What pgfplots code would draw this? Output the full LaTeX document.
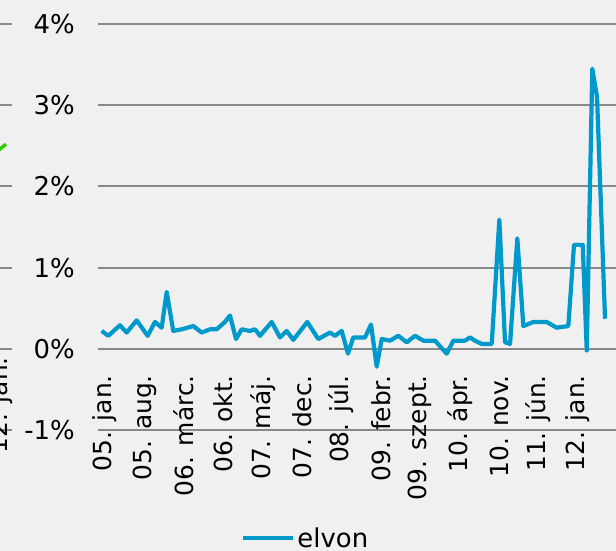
\documentclass[border=0pt]{standalone}
\usepackage{fontspec}
\setmainfont{DejaVu Sans}
\usepackage{pgfplots}
\pgfplotsset{compat=1.18}
\definecolor{bg}{HTML}{F0F0F0}
\definecolor{gridc}{HTML}{888888}
\definecolor{elvon}{HTML}{0099CC}
\definecolor{greenl}{HTML}{33CC00}
\begin{document}
\begin{tikzpicture}[x=1bp,y=1bp]
\useasboundingbox (0,0) rectangle (616,551);
\fill[bg] (0,0) rectangle (616,551);
\clip (0,0) rectangle (616,551);
% remnant of the neighbouring chart on the left
\begin{axis}[
  scale only axis, width=200bp, height=406bp,
  at={(12bp,121bp)}, anchor=south east,
  xmin=0, xmax=10, ymin=-1, ymax=4,
  axis line style={draw=none}, major tick length=0pt,
  ymajorgrids, grid style={gridc, line width=2bp},
  ytick={-1,0,...,4}, yticklabels={},
  xtick={9.45}, xticklabels={12. jan.},
  xticklabel style={font=\fontsize{25}{30}\selectfont, inner sep=0pt, yshift=73bp, rotate=90, anchor=east},
]
\addplot[greenl, line width=3.5bp] coordinates {(9.0,2.38) (9.7,2.52)};
\end{axis}
% main chart
\begin{axis}[
  scale only axis, width=522bp, height=406bp,
  at={(98bp,121bp)}, anchor=south west,
  xmin=-1.24, xmax=91.47, ymin=-1, ymax=4,
  axis line style={draw=none}, major tick length=0pt,
  ymajorgrids, grid style={gridc, line width=2bp},
  ytick={-1,0,...,4},
  yticklabels={-1\%,0\%,1\%,2\%,3\%,4\%},
  xtick={0,7,...,84},
  xticklabels={05. jan., 05. aug., 06. márc., 06. okt., 07. máj., 07. dec., 08. júl., 09. febr., 09. szept., 10. ápr., 10. nov., 11. jún., 12. jan.},
  /pgf/number format/assume math mode=true,
  xticklabel style={font=\fontsize{25}{30}\selectfont, inner sep=0pt, yshift=55bp, rotate=90, anchor=east},
  yticklabel style={font=\fontsize{26}{30}\selectfont, inner sep=0pt, xshift=-23bp, anchor=east},
  legend style={at={(0.398,-0.266)}, anchor=center, draw=none, fill=none, font=\fontsize{26}{30}\selectfont},
  legend image code/.code={\draw[#1] (0bp,0bp) -- (50bp,0bp);},
]
\addplot[elvon, line width=4.2bp, line join=round] coordinates {
(-0.59,0.22) (0.59,0.16) (2.66,0.29) (3.85,0.20) (5.63,0.35) (7.58,0.16) (8.88,0.33) (10.07,0.26) (10.96,0.70) (12.13,0.22) (13.62,0.24) (15.68,0.28) (17.18,0.20) (18.65,0.24) (19.84,0.24) (21.31,0.33) (22.2,0.41) (23.27,0.12) (24.28,0.24) (25.75,0.22) (26.64,0.24) (27.53,0.16) (29.61,0.33) (31.08,0.14) (32.27,0.22) (33.45,0.11) (35.93,0.33) (37.89,0.12) (39.96,0.20) (40.85,0.16) (42.04,0.22) (43.16,-0.06) (44.1,0.14) (46.18,0.14) (47.25,0.30) (48.26,-0.22) (49.15,0.12) (50.62,0.10) (52.1,0.16) (53.59,0.08) (55.06,0.16) (56.54,0.10) (58.61,0.10) (60.69,-0.06) (61.87,0.10) (63.94,0.10) (64.83,0.14) (65.72,0.10) (66.91,0.06) (68.69,0.06) (70.04,1.59) (71.05,0.08) (71.94,0.06) (73.23,1.36) (74.3,0.28) (76.07,0.33) (78.45,0.33) (80.23,0.26) (82.29,0.28) (83.3,1.28) (84.85,1.28) (85.56,-0.02) (86.55,3.45) (87.39,3.1) (88.81,0.37)
};
\addlegendentry{elvon}
\end{axis}
\end{tikzpicture}
\end{document}
